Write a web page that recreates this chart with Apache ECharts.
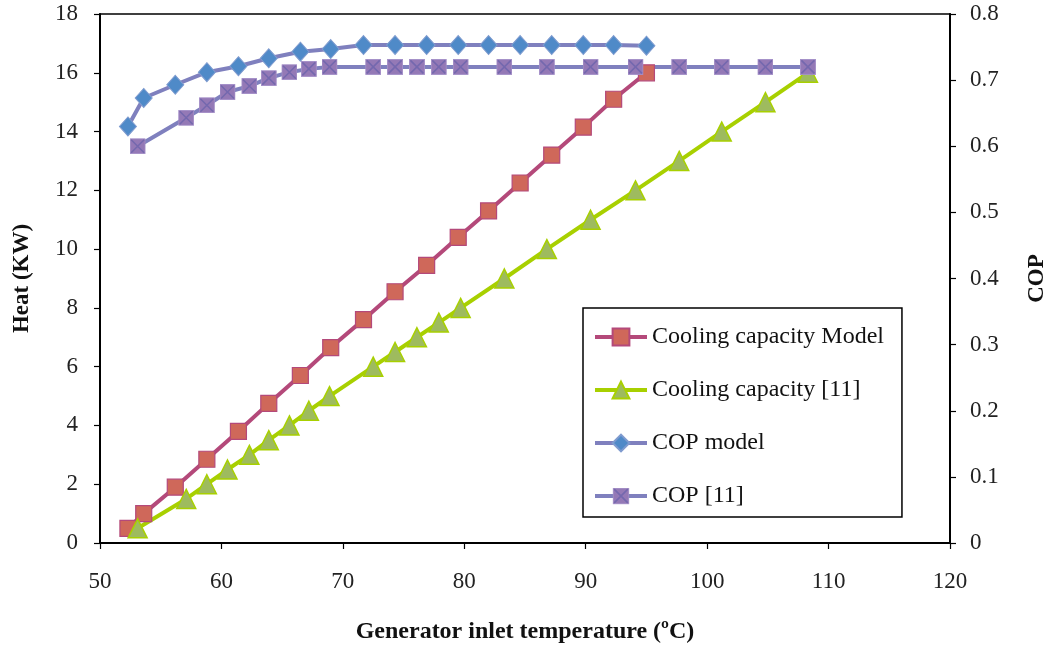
<!DOCTYPE html>
<html>
<head>
<meta charset="utf-8">
<title>Generator inlet temperature vs heat and COP</title>
<script src="https://cdn.jsdelivr.net/npm/echarts@6/dist/echarts.min.js"></script>
<style>
  html, body { margin: 0; padding: 0; background: #fff; }
  #chart { width: 1057px; height: 647px; }
</style>
</head>
<body>
<div id="chart"></div>
<script>
// Generator inlet temperature (°C) for the model runs
const modelTemp = [52.3, 53.6, 56.2, 58.8, 61.4, 63.9, 66.5, 69.0, 71.7, 74.3, 76.9, 79.5, 82.0, 84.6, 87.2, 89.8, 92.3, 95.0];
// Cooling capacity, model (kW)
const coolingModel = [0.5, 1.0, 1.9, 2.85, 3.8, 4.75, 5.7, 6.65, 7.6, 8.55, 9.45, 10.4, 11.3, 12.25, 13.2, 14.15, 15.1, 16.0];
// COP, model
const copModel = [0.63, 0.673, 0.693, 0.712, 0.721, 0.733, 0.743, 0.747, 0.753, 0.753, 0.753, 0.753, 0.753, 0.753, 0.753, 0.753, 0.753, 0.752];

// Generator inlet temperature (°C) for reference [11]
const refTemp = [53.1, 57.1, 58.8, 60.5, 62.3, 63.9, 65.6, 67.2, 68.9, 72.5, 74.3, 76.1, 77.9, 79.7, 83.3, 86.8, 90.4, 94.1, 97.7, 101.2, 104.8, 108.3];
// Cooling capacity, reference [11] (kW)
const coolingRef = [0.5, 1.5, 2.0, 2.5, 3.0, 3.5, 4.0, 4.5, 5.0, 6.0, 6.5, 7.0, 7.5, 8.0, 9.0, 10.0, 11.0, 12.0, 13.0, 14.0, 15.0, 16.0];
// COP, reference [11]
const copRef = [0.60, 0.643, 0.662, 0.682, 0.691, 0.703, 0.712, 0.717, 0.72, 0.72, 0.72, 0.72, 0.72, 0.72, 0.72, 0.72, 0.72, 0.72, 0.72, 0.72, 0.72, 0.72];

const seriesNames = ['Cooling capacity Model', 'Cooling capacity [11]', 'COP model', 'COP [11]'];

const zip = (xs, ys) => xs.map((x, i) => [x, ys[i]]);

// square marker with a diagonal cross for the COP [11] series
const crossSquareSvg =
  "<svg xmlns='http://www.w3.org/2000/svg' width='32' height='32'>" +
  "<rect x='1' y='1' width='30' height='30' fill='#9479B6' stroke='#A48FC8' stroke-width='2'/>" +
  "<path d='M3 3L29 29M29 3L3 29' stroke='#7468AE' stroke-width='3'/>" +
  "</svg>";
const crossSquare = 'image://data:image/svg+xml;charset=utf-8,' + encodeURIComponent(crossSquareSvg);

const serif = "'Liberation Serif', 'DejaVu Serif', serif";
const tickFont = { fontFamily: serif, fontSize: 23, color: '#222' };
const titleFont = { fontFamily: serif, fontSize: 23, fontWeight: 'bold', color: '#111' };
const axisLine = { show: true, lineStyle: { color: '#000', width: 2 } };
const axisTick = { show: true, length: 6, lineStyle: { color: '#000', width: 1.2 } };

const chart = echarts.init(document.getElementById('chart'), null, { renderer: 'canvas' });

chart.setOption({
  animation: false,
  backgroundColor: '#fff',
  grid: {
    left: 100, right: 107, top: 14, bottom: 104,
    outerBoundsMode: 'none',
    containLabel: false,
    show: true, borderColor: '#000', borderWidth: 1.5, backgroundColor: 'transparent'
  },
  legend: {
    data: seriesNames,
    orient: 'vertical',
    left: 583, top: 308,
    padding: [17, 18, 9, 10],
    itemGap: 29,
    itemWidth: 52,
    itemHeight: 21,
    borderColor: '#000',
    borderWidth: 1.5,
    backgroundColor: '#fff',
    lineStyle: { width: 4 },
    textStyle: { fontFamily: serif, fontSize: 24, color: '#111', lineHeight: 24 }
  },
  xAxis: {
    type: 'value',
    min: 50, max: 120, interval: 10,
    name: 'Generator inlet temperature (ºC)',
    nameLocation: 'middle',
    nameGap: 77,
    nameTextStyle: Object.assign({}, titleFont, { fontSize: 24 }),
    axisLine: axisLine,
    axisTick: axisTick,
    axisLabel: Object.assign({}, tickFont, { margin: 27 }),
    splitLine: { show: false }
  },
  yAxis: [
    {
      type: 'value',
      min: 0, max: 18, interval: 2,
      position: 'left',
      name: 'Heat (KW)',
      nameLocation: 'middle',
      nameGap: 66,
      nameTextStyle: titleFont,
      axisLine: axisLine,
      axisTick: axisTick,
      axisLabel: Object.assign({}, tickFont, { margin: 22 }),
      splitLine: { show: false }
    },
    {
      type: 'value',
      min: 0, max: 0.8, interval: 0.1,
      position: 'right',
      name: 'COP',
      nameLocation: 'middle',
      nameGap: 76,
      nameTextStyle: titleFont,
      axisLine: axisLine,
      axisTick: axisTick,
      axisLabel: Object.assign({}, tickFont, { margin: 20 }),
      splitLine: { show: false }
    }
  ],
  series: [
    {
      name: seriesNames[0],
      type: 'line',
      yAxisIndex: 0,
      data: zip(modelTemp, coolingModel),
      symbol: 'rect',
      symbolSize: 16,
      lineStyle: { color: '#B4497A', width: 4 },
      itemStyle: { color: '#CF685A', borderColor: '#B4497A', borderWidth: 1.2 }
    },
    {
      name: seriesNames[1],
      type: 'line',
      yAxisIndex: 0,
      data: zip(refTemp, coolingRef),
      symbol: 'triangle',
      symbolSize: 19,
      lineStyle: { color: '#A8D000', width: 4 },
      itemStyle: { color: '#9EBB5E', borderColor: '#A8D000', borderWidth: 1.5 }
    },
    {
      name: seriesNames[2],
      type: 'line',
      yAxisIndex: 1,
      data: zip(modelTemp, copModel),
      symbol: 'diamond',
      symbolSize: [17, 19],
      lineStyle: { color: '#7F80BE', width: 4 },
      itemStyle: { color: '#4F8AC8', borderColor: '#7F9BCF', borderWidth: 1 }
    },
    {
      name: seriesNames[3],
      type: 'line',
      yAxisIndex: 1,
      data: zip(refTemp, copRef),
      symbol: crossSquare,
      symbolSize: 16,
      lineStyle: { color: '#7F80BE', width: 4 },
      itemStyle: { color: '#9479B6' }
    }
  ]
});
</script>
</body>
</html>
